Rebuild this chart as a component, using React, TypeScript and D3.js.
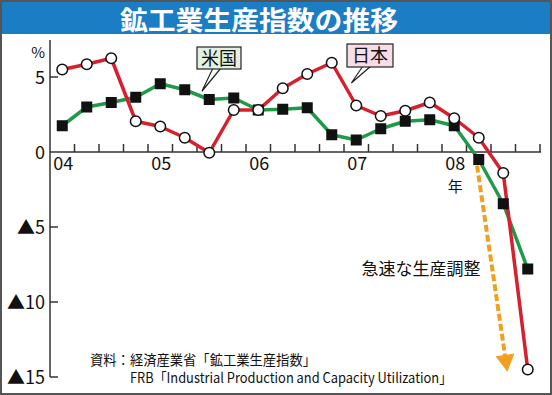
import React from 'react';
import * as d3 from 'd3';

const W = 552;
const H = 395;

// 四半期ごとの前年同期比(%)
const years = ['04', '05', '06', '07', '08'];
const japan = [5.5, 5.85, 6.25, 2.05, 1.7, 0.95, -0.05, 2.8, 2.8, 4.25, 5.2, 5.95, 3.1, 2.4, 2.75, 3.3, 2.25, 0.95, -1.4, -14.5];
const us = [1.75, 3.0, 3.3, 3.65, 4.55, 4.15, 3.5, 3.6, 2.8, 2.85, 2.95, 1.15, 0.8, 1.55, 2.05, 2.15, 1.75, -0.5, -3.45, -7.8];
const yTicks = [5, 0, -5, -10, -15];
const yTickLabels = ['5', '0', '▲5', '▲10', '▲15'];

const FONT = '"Noto Sans CJK JP", "Noto Sans", sans-serif';

const App = () => {
    const x = d3.scaleLinear().domain([0, 20]).range([50, 540]);
    const y = d3.scaleLinear().domain([-15, 0]).range([377, 152]);

    const line = d3.line<number>()
        .x((_, i) => x(i + 0.5))
        .y(d => y(d));

    // 矢印(急速な生産調整)
    const ax0 = x(17.43), ay0 = y(-0.9);
    const ax1 = x(18.67), ay1 = y(-14.65);
    const ang = Math.atan2(ay1 - ay0, ax1 - ax0);
    const headLen = 17, headW = 9.5;
    const bx = ax1 - headLen * Math.cos(ang), by = ay1 - headLen * Math.sin(ang);
    const px = -Math.sin(ang), py = Math.cos(ang);
    const head = `M${ax1},${ay1}L${bx + px * headW},${by + py * headW}L${bx - px * headW},${by - py * headW}Z`;

    // 吹き出しの指し示す点
    const usTip = [x(6.2), y(4.05)];
    const jpTip = [x(12.3), y(4.6)];

    return (
        <svg width={W} height={H} style={{ position: 'absolute', left: 0, top: 0 }} fontFamily={FONT}>
            <rect x={0} y={0} width={W} height={H} fill="#fff" />
            {/* タイトル */}
            <rect x={0} y={0} width={W} height={34} fill="#1b7dc4" />
            <text x={259} y={29.5} textAnchor="middle" fill="#fff" fontSize={26} fontWeight="bold" textLength={278} lengthAdjust="spacingAndGlyphs">鉱工業生産指数の推移</text>

            {/* y軸 */}
            <line x1={50} x2={50} y1={40} y2={y(-15)} stroke="#333" strokeWidth={1.5} />
            {yTicks.map((t, i) => (
                <g key={t}>
                    {t !== 0 && <line x1={50} x2={58} y1={y(t)} y2={y(t)} stroke="#333" strokeWidth={1.5} />}
                    <text x={45} y={y(t) + 6.5} textAnchor="end" fontSize={18} fill="#111">{yTickLabels[i]}</text>
                </g>
            ))}
            <text x={45} y={58} textAnchor="end" fontSize={15} fill="#111">%</text>

            {/* x軸 */}
            <line x1={50} x2={541} y1={y(0)} y2={y(0)} stroke="#333" strokeWidth={1.5} />
            {d3.range(1, 21).map(k => (
                <line key={k} x1={x(k)} x2={x(k)} y1={y(0)} y2={y(0) - 8} stroke="#333" strokeWidth={1.5} />
            ))}
            {years.map((yr, i) => (
                <text key={yr} x={x(i * 4 + 0.5) + 1} y={170} textAnchor="middle" fontSize={18} fill="#111">{yr}</text>
            ))}
            <text x={x(16.5) + 1} y={192} textAnchor="middle" fontSize={15} fill="#111">年</text>

            {/* 系列 */}
            <path d={line(us) ?? ''} fill="none" stroke="#1f9a4b" strokeWidth={3.5} strokeLinejoin="round" />
            <path d={line(japan) ?? ''} fill="none" stroke="#d71f2d" strokeWidth={3.5} strokeLinejoin="round" />
            {us.map((v, i) => (
                <rect key={'u' + i} x={x(i + 0.5) - 5.5} y={y(v) - 5.5} width={11} height={11} fill="#111" />
            ))}
            {japan.map((v, i) => (
                <circle key={'j' + i} cx={x(i + 0.5)} cy={y(v)} r={5.3} fill="#fff" stroke="#111" strokeWidth={1.5} />
            ))}

            {/* 矢印 */}
            <line x1={ax0} y1={ay0} x2={bx} y2={by} stroke="#f0a01e" strokeWidth={4} strokeDasharray="7,3" />
            <path d={head} fill="#f0a01e" />
            <text x={421} y={275} textAnchor="middle" fontSize={17} fill="#111">急速な生産調整</text>

            {/* 吹き出し: 米国 */}
            <path d={`M213,68L221,68L${usTip[0]},${usTip[1]}Z`} fill="#fff" stroke="#222" strokeWidth={1.2} />
            <rect x={197} y={47} width={44} height={22} fill="#e3f1e3" stroke="#222" strokeWidth={1.2} />
            <text x={219} y={64.5} textAnchor="middle" fontSize={18} fill="#111">米国</text>

            {/* 吹き出し: 日本 */}
            <path d={`M363,66L371,66L${jpTip[0]},${jpTip[1]}Z`} fill="#fff" stroke="#222" strokeWidth={1.2} />
            <rect x={347} y={44} width={46} height={23} fill="#f8dce6" stroke="#222" strokeWidth={1.2} />
            <text x={370} y={62} textAnchor="middle" fontSize={18} fill="#111">日本</text>

            {/* 資料 */}
            <text x={90} y={365} fontSize={14} fill="#111" textLength={226} lengthAdjust="spacingAndGlyphs">資料：経済産業省「鉱工業生産指数」</text>
            <text x={130} y={383} fontSize={14} fill="#111" textLength={322} lengthAdjust="spacingAndGlyphs">FRB「Industrial Production and Capacity Utilization」</text>

            {/* 枠 */}
            <rect x={1} y={1} width={W - 2} height={H - 2} fill="none" stroke="#555" strokeWidth={2} />
        </svg>
    );
};

export default App;
